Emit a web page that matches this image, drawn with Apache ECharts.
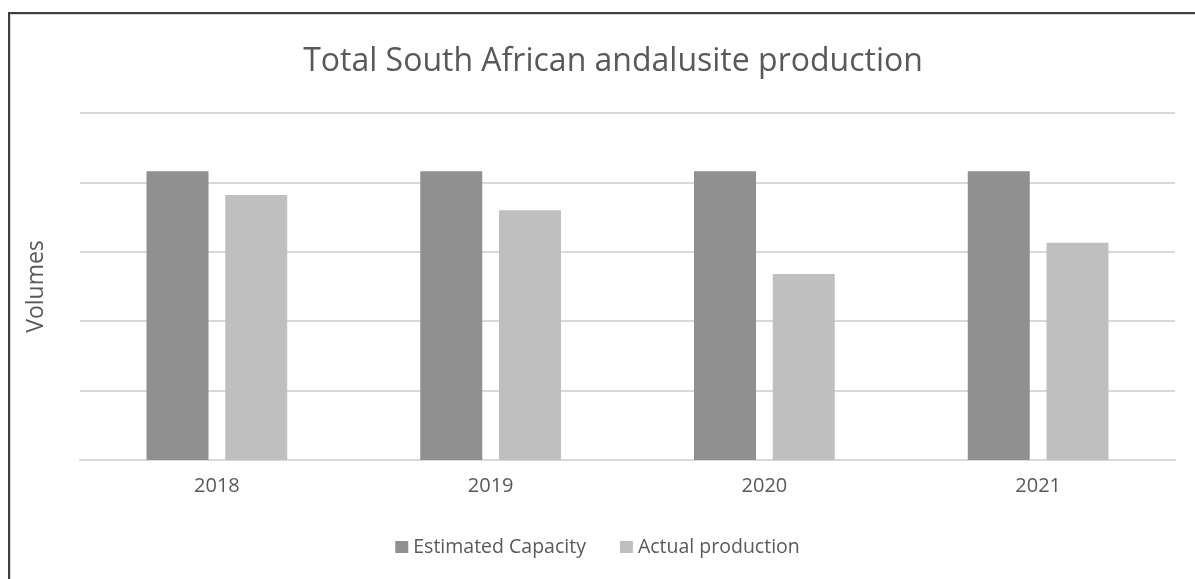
<!DOCTYPE html>
<html>
<head>
<meta charset="utf-8">
<script src="https://cdn.jsdelivr.net/npm/echarts@6/dist/echarts.min.js"></script>
<style>
    html, body { margin: 0; padding: 0; background: #fff; }
    #frame {
        position: absolute; left: 8px; top: 12px; width: 1200px; height: 600px;
        border-left: 2px solid #3f3f3f; border-top: 2px solid #3f3f3f;
        box-shadow: inset 1px 1px 0 #d9d9d9;
    }
    #main { position: absolute; left: 0; top: 0; width: 1195px; height: 579px; }
</style>
</head>
<body>
<div id="frame"></div>
<div id="main"></div>
<script>
const years = ['2018', '2019', '2020', '2021'];
const estimatedCapacity = [4.16, 4.16, 4.16, 4.16];
const actualProduction = [3.82, 3.60, 2.68, 3.13];

const textColor = '#595959';
const font = '"Open Sans", sans-serif';

const chart = echarts.init(document.getElementById('main'));
chart.setOption({
    animation: false,
    title: {
        text: 'Total South African andalusite production',
        left: 608,
        textAlign: 'center',
        top: 41,
        textStyle: { fontFamily: font, fontSize: 32, fontWeight: 'normal', color: textColor }
    },
    legend: {
        top: 532,
        left: 'center',
        itemWidth: 13,
        itemHeight: 12,
        itemGap: 34,
        icon: 'rect',
        textStyle: { fontFamily: font, fontSize: 19.5, color: textColor, padding: [0, 0, 0, 0] }
    },
    grid: { left: 80, right: 20, top: 113, bottom: 119 },
    xAxis: {
        type: 'category',
        data: years,
        axisLine: { lineStyle: { color: '#d9d9d9', width: 2 } },
        axisTick: { show: false },
        axisLabel: { margin: 16, fontFamily: font, fontSize: 20, color: textColor }
    },
    yAxis: {
        type: 'value',
        min: 0,
        max: 5,
        interval: 1,
        name: 'Volumes',
        nameLocation: 'middle',
        nameRotate: 90,
        nameGap: 32,
        nameTextStyle: { fontFamily: font, fontSize: 23, color: textColor },
        axisLabel: { show: false },
        axisLine: { show: false },
        axisTick: { show: false },
        splitLine: { lineStyle: { color: '#d9d9d9', width: 2 } }
    },
    series: [
        {
            name: 'Estimated Capacity',
            type: 'bar',
            data: estimatedCapacity,
            barWidth: 62,
            barGap: '27%',
            itemStyle: { color: '#909090' }
        },
        {
            name: 'Actual production',
            type: 'bar',
            data: actualProduction,
            barWidth: 62,
            itemStyle: { color: '#bfbfbf' }
        }
    ]
});
</script>
</body>
</html>
